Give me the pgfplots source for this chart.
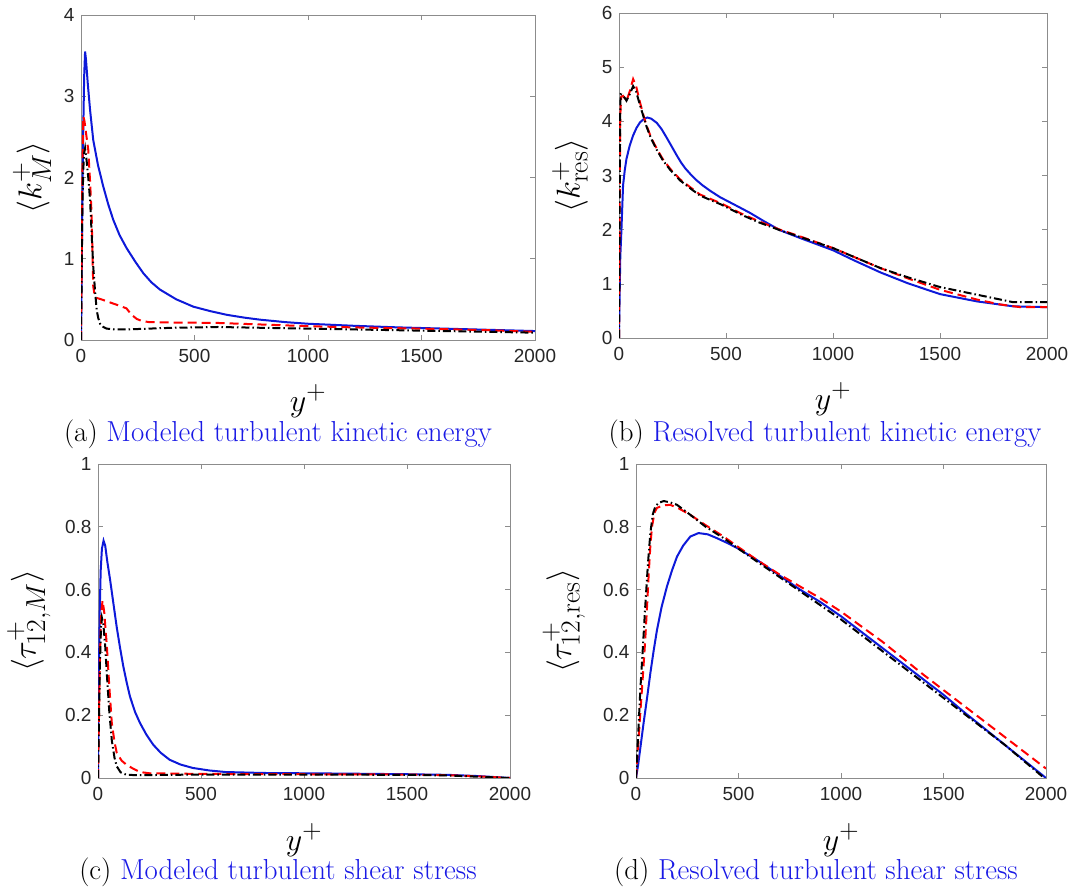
\documentclass[border=0pt]{standalone}
\usepackage{fontspec}
\usepackage{pgfplots}
\pgfplotsset{compat=1.18}
\newfontfamily\helv{Liberation Sans}
\definecolor{mblue}{rgb}{0.05,0.1,0.85}
\definecolor{mred}{rgb}{1,0,0}
\definecolor{capblue}{rgb}{0.1,0.1,0.9}
\pgfplotsset{
 myax/.style={scale only axis, xmin=0, xmax=2000, ymin=0,
  xtick={0,500,1000,1500,2000},
  axis line style={black!45, line width=0.6bp},
  tick style={black!45, line width=0.6bp},
  tick align=inside, major tick length=5bp, tick pos=both,
  every tick label/.append style={font=\fontsize{19}{22}\selectfont\helv, text=black!85},
  xticklabel style={yshift=-6bp},
  yticklabel style={xshift=-3bp},
  /pgf/number format/assume math mode=true,
  /pgf/number format/set thousands separator={},
  xlabel={$y^+$},
  xlabel style={font=\fontsize{24.88}{28}\selectfont, scale=1.29, anchor=center},
  ylabel style={font=\fontsize{24.88}{28}\selectfont, scale=1.33, anchor=center},
 },
 lb/.style={mblue, line width=2bp, solid},
 lr/.style={mred, line width=2bp, dash pattern=on 9bp off 5bp},
 lk/.style={black, line width=2bp, dash pattern=on 8bp off 3bp on 1.5bp off 3bp},
}
\begin{document}
\begin{tikzpicture}
\useasboundingbox (0,0) rectangle (1072bp,890bp);
% (a)
\begin{axis}[myax, at={(81bp,550bp)}, anchor=south west, width=454bp, height=325bp,
  ymax=4, ytick={0,1,2,3,4},
  xlabel style={at={(axis description cs:0.5,-0.188)}},
  ylabel={$\langle k^+_M\rangle$},
  ylabel style={at={(axis description cs:-0.108,0.5)}}]
\addplot[lb] coordinates {(0,0) (3,0.8) (6,1.7) (10,2.6) (14,3.25) (18,3.55) (22,3.45) (30,3.15) (40,2.83) (54,2.46) (75,2.15) (98,1.89) (120,1.67) (142,1.48) (170,1.29) (201,1.13) (240,0.96) (275,0.82) (310,0.71) (348,0.62) (420,0.50) (495,0.41) (570,0.355) (642,0.31) (720,0.275) (789,0.25) (900,0.22) (1000,0.20) (1200,0.175) (1400,0.155) (1600,0.14) (1800,0.125) (2000,0.11)};
\addplot[lr] coordinates {(0,0) (3,1.0) (6,2.0) (10,2.75) (15,2.7) (22,2.55) (32,2.34) (40,1.95) (47,1.52) (51,1.0) (54,0.66) (60,0.55) (66,0.52) (90,0.50) (130,0.46) (161,0.43) (200,0.39) (223,0.31) (245,0.26) (267,0.235) (300,0.22) (400,0.215) (600,0.21) (800,0.19) (1000,0.17) (1200,0.155) (1500,0.14) (1800,0.12) (2000,0.10)};
\addplot[lk] coordinates {(0,0) (3,0.8) (6,1.6) (10,2.1) (14,2.3) (18,2.36) (25,2.2) (32,2.0) (40,1.72) (47,1.3) (54,0.9) (62,0.6) (69,0.37) (76,0.27) (84,0.2) (98,0.16) (113,0.14) (150,0.13) (200,0.13) (300,0.14) (400,0.15) (500,0.155) (600,0.16) (700,0.155) (800,0.15) (1000,0.14) (1200,0.13) (1500,0.115) (1800,0.10) (2000,0.09)};
\end{axis}
% (b)
\begin{axis}[myax, at={(619bp,552bp)}, anchor=south west, width=428bp, height=325bp,
  ymax=6, ytick={0,1,2,3,4,5,6},
  xlabel style={at={(axis description cs:0.5,-0.188)}},
  ylabel={$\langle k^+_{\mathrm{res}}\rangle$},
  ylabel style={at={(axis description cs:-0.1145,0.5)}}]
\addplot[lb] coordinates {(0,0) (3,0.8) (6,1.5) (11,1.96) (19,2.82) (27,3.1) (35,3.31) (50,3.55) (66,3.74) (82,3.88) (98,3.98) (115,4.04) (132,4.07) (150,4.05) (177,3.97) (200,3.85) (224,3.69) (250,3.51) (270,3.37) (290,3.24) (310,3.13) (335,3.02) (360,2.92) (390,2.82) (425,2.72) (472,2.60) (540,2.46) (612,2.31) (680,2.15) (752,1.99) (850,1.84) (1000,1.62) (1100,1.43) (1222,1.21) (1350,1.01) (1500,0.81) (1672,0.676) (1843,0.584) (2000,0.57)};
\addplot[lr] coordinates {(0,0) (2,1.5) (4,3.0) (6,4.1) (10,4.45) (19,4.47) (35,4.38) (50,4.55) (66,4.78) (80,4.65) (98,4.35) (115,4.1) (129,3.92) (150,3.7) (177,3.49) (205,3.3) (240,3.12) (285,2.93) (334,2.78) (378,2.65) (480,2.48) (570,2.30) (650,2.16) (752,2.0) (850,1.87) (1000,1.66) (1222,1.29) (1350,1.10) (1500,0.89) (1672,0.71) (1780,0.62) (1874,0.57) (2000,0.57)};
\addplot[lk] coordinates {(0,0) (2,1.5) (4,3.2) (6,4.3) (8,4.5) (19,4.48) (35,4.38) (50,4.5) (66,4.65) (80,4.55) (98,4.3) (115,4.08) (129,3.9) (150,3.68) (177,3.47) (205,3.28) (240,3.10) (285,2.91) (334,2.76) (378,2.63) (480,2.46) (570,2.28) (650,2.14) (752,1.99) (850,1.86) (1000,1.66) (1222,1.29) (1350,1.12) (1500,0.94) (1672,0.80) (1843,0.66) (2000,0.66)};
\end{axis}
% (c)
\begin{axis}[myax, at={(98bp,112bp)}, anchor=south west, width=412bp, height=314bp,
  ymax=1, ytick={0,0.2,0.4,0.6,0.8,1},
  yticklabel style={/pgf/number format/fixed},
  xlabel style={at={(axis description cs:0.5,-0.197)}},
  ylabel={$\langle \tau^+_{12,M}\rangle$},
  ylabel style={at={(axis description cs:-0.168,0.5)}}]
\addplot[lb] coordinates {(0,0) (4,0.3) (8,0.52) (13,0.66) (19,0.73) (27,0.756) (35,0.74) (45,0.69) (59,0.63) (75,0.555) (91,0.48) (107,0.415) (123,0.355) (139,0.305) (155,0.26) (180,0.21) (204,0.175) (235,0.138) (268,0.106) (305,0.08) (348,0.058) (400,0.043) (460,0.032) (540,0.024) (620,0.019) (800,0.016) (1000,0.015) (1200,0.014) (1500,0.012) (1700,0.010) (1850,0.006) (2000,0.0)};
\addplot[lr] coordinates {(0,0) (5,0.2) (10,0.4) (15,0.52) (22,0.565) (30,0.53) (43,0.42) (55,0.29) (67,0.175) (80,0.115) (91,0.08) (115,0.055) (139,0.042) (170,0.03) (204,0.019) (250,0.015) (500,0.013) (1000,0.012) (1500,0.011) (1700,0.009) (1850,0.005) (2000,0)};
\addplot[lk] coordinates {(0,0) (5,0.2) (10,0.38) (14,0.47) (19,0.51) (26,0.49) (35,0.42) (43,0.33) (55,0.21) (67,0.12) (80,0.065) (91,0.037) (110,0.018) (139,0.010) (200,0.009) (500,0.011) (1000,0.011) (1500,0.010) (1700,0.008) (1850,0.004) (2000,0)};
\end{axis}
% (d)
\begin{axis}[myax, at={(636bp,112bp)}, anchor=south west, width=410bp, height=314bp,
  ymax=1, ytick={0,0.2,0.4,0.6,0.8,1},
  yticklabel style={/pgf/number format/fixed},
  xlabel style={at={(axis description cs:0.5,-0.197)}},
  ylabel={$\langle \tau^+_{12,\mathrm{res}}\rangle$},
  ylabel style={at={(axis description cs:-0.176,0.5)}}]
\addplot[lb] coordinates {(0,0) (10,0.04) (20,0.09) (37,0.175) (55,0.26) (70,0.334) (86,0.405) (102,0.47) (125,0.545) (151,0.61) (175,0.66) (200,0.705) (230,0.74) (265,0.769) (305,0.78) (350,0.776) (394,0.764) (450,0.747) (500,0.73) (600,0.69) (700,0.645) (800,0.60) (900,0.56) (1000,0.515) (1200,0.415) (1400,0.315) (1500,0.265) (1600,0.21) (1800,0.105) (2000,0.0)};
\addplot[lr] coordinates {(0,0) (10,0.1) (21,0.207) (33,0.32) (45,0.44) (55,0.56) (62,0.65) (70,0.74) (78,0.80) (90,0.845) (102,0.86) (130,0.868) (167,0.87) (210,0.858) (265,0.838) (340,0.805) (427,0.769) (500,0.735) (589,0.695) (700,0.648) (800,0.61) (900,0.572) (1000,0.53) (1200,0.435) (1400,0.33) (1500,0.28) (1600,0.23) (1800,0.13) (2000,0.03)};
\addplot[lk] coordinates {(0,0) (10,0.13) (21,0.28) (33,0.41) (45,0.546) (58,0.68) (70,0.78) (82,0.84) (94,0.864) (110,0.876) (135,0.882) (165,0.878) (200,0.87) (265,0.838) (340,0.80) (427,0.764) (500,0.73) (600,0.685) (700,0.64) (800,0.595) (900,0.55) (1000,0.505) (1200,0.405) (1400,0.305) (1500,0.255) (1600,0.205) (1800,0.105) (2000,-0.005)};
\end{axis}
\node[font=\fontsize{29}{34}\selectfont] at (278bp,456bp) {(a) \textcolor{capblue}{Modeled turbulent kinetic energy}};
\node[font=\fontsize{29}{34}\selectfont] at (825bp,456bp) {(b) \textcolor{capblue}{Resolved turbulent kinetic energy}};
\node[font=\fontsize{29}{34}\selectfont] at (278bp,18bp) {(c) \textcolor{capblue}{Modeled turbulent shear stress}};
\node[font=\fontsize{29}{34}\selectfont] at (816bp,18bp) {(d) \textcolor{capblue}{Resolved turbulent shear stress}};
\end{tikzpicture}
\end{document}
